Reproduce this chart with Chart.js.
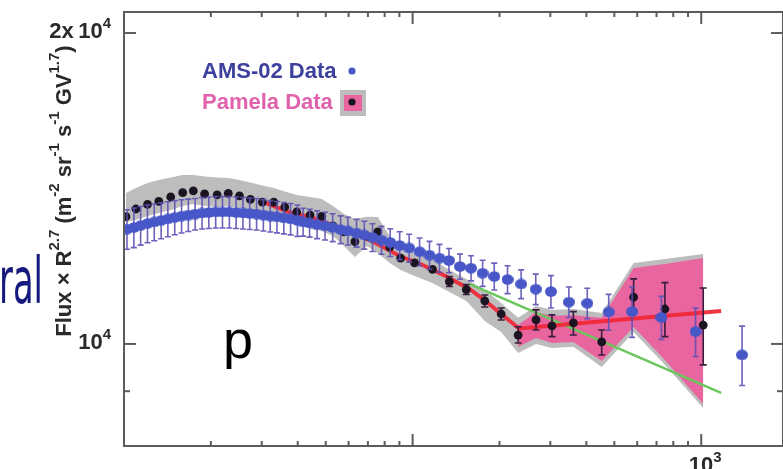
<!DOCTYPE html>
<html>
<head>
<meta charset="utf-8">
<script src="https://cdn.jsdelivr.net/npm/chart.js@4.4.0/dist/chart.umd.min.js"></script>
<style>
  html, body { margin: 0; padding: 0; background: #fff; overflow: hidden; }
  #wrap { position: absolute; left: 0; top: 0; width: 790px; height: 469px; }
</style>
</head>
<body>
<div id="wrap"><canvas id="c"></canvas></div>
<script>
// ---- AMS-02 proton flux x R^2.7 (rigidity in GV) ----
const amsRigidity = [10.24, 10.82, 11.42, 12.06, 12.73, 13.45, 14.19, 14.99, 15.83, 16.71,
  17.64, 18.64, 19.67, 20.78, 21.94, 23.18, 24.46, 25.83, 27.26, 28.80,
  30.40, 32.11, 33.88, 35.79, 37.77, 39.90, 41.75, 43.96, 46.66, 49.73,
  52.85, 56.31, 59.67, 63.93, 68.02, 72.62, 77.99, 83.62, 90.19, 97.26,
  105.7, 114.4, 123.9, 133.6, 146.0, 159.4, 174.8, 191.8, 213.2, 237.7,
  267.1, 301.5, 347.8, 402.8, 477.9, 576.0, 727.9, 955.8, 1385];
const amsFlux = [12920, 12965, 13025, 13080, 13125, 13170, 13215, 13260, 13300, 13330,
  13360, 13390, 13405, 13420, 13420, 13420, 13405, 13390, 13375, 13360,
  13330, 13300, 13275, 13245, 13215, 13170, 13125, 13095, 13050, 13010,
  12965, 12905, 12865, 12805, 12750, 12680, 12605, 12540, 12455, 12385,
  12285, 12190, 12110, 12045, 11885, 11840, 11710, 11625, 11545, 11430,
  11300, 11240, 10980, 10950, 10740, 10750, 10610, 10280, 9760];
// relative uncertainty of each AMS-02 point, in percent
const amsErrPct = [4.4, 4.4, 4.3, 4.2, 4.1, 4.0, 3.9, 3.8, 3.7, 3.6,
  3.5, 3.5, 3.5, 3.5, 3.5, 3.5, 3.5, 3.5, 3.5, 3.5,
  3.5, 3.5, 3.5, 3.5, 3.5, 3.5, 3.1, 3.1, 3.1, 3.1,
  3.1, 3.1, 3.1, 3.1, 3.1, 3.1, 3.1, 3.1, 3.1, 3.1,
  3.1, 3.1, 3.1, 2.7, 2.8, 2.8, 2.9, 3.0, 3.1, 3.2,
  3.4, 3.6, 3.4, 3.4, 4.0, 5.6, 4.8, 5.4, 6.6];

// ---- PAMELA proton flux x R^2.7 ----
const pamelaRigidity = [10.16, 11.0, 12.07, 13.2, 14.52, 15.97, 17.39, 19.02, 21.02, 22.97,
  25.12, 27.41, 30.15, 33.04, 36.06, 39.66, 44.14, 48.43, 52.98, 57.82,
  63.1, 69.4, 75.7, 83.3, 90.9, 101.6, 117.2, 134.1, 153.5, 177.8,
  202.7, 232.1, 267.7, 304.0, 360.6, 452.0, 583.1, 748.4, 1016];
const pamelaFlux = [13280, 13510, 13650, 13740, 13880, 14010, 14070, 13970, 13940, 13990,
  13910, 13800, 13720, 13720, 13570, 13420, 13330, 13290, 13010, 12840,
  12560, 12720, 12840, 12410, 12110, 11980, 11810, 11490, 11290, 11010,
  10690, 10200, 10550, 10410, 10480, 10045, 11100, 10810, 10430];
// statistical error bar ends (null where the bar is smaller than the marker)
const pamelaLow = [null, null, null, null, null, null, null, null, null, null,
  null, null, null, null, null, null, null, null, null, null,
  null, null, null, null, null, null, null, 11367, 11167, 10860,
  10550, 10020, 10317, 10165, 10202, 9758, 10715, 10165, 9543];
const pamelaHigh = [null, null, null, null, null, null, null, null, null, null,
  null, null, null, null, null, null, null, null, null, null,
  null, null, null, null, null, null, null, 11624, 11418, 11154,
  10836, 10390, 10790, 10670, 10747, 10317, 11560, 11464, 11330];
// systematic uncertainty band (grey)
const pamelaSysUpper = [14000, 14160, 14320, 14410, 14490, 14575, 14575, 14525, 14490, 14480,
  14410, 14330, 14240, 14160, 14050, 13940, 13880, 13815, 13600, 13360,
  13215, 13280, 13270, 12720, 12415, 12275, 12085, 11795, 11560, 11280,
  10955, 10600, 10885, 10785, 10810, 10715, 11980, 12085, 12220];
const pamelaSysLower = [13125, 13185, 13300, 13390, 13480, 13600, 13660, 13600, 13570, 13600,
  13540, 13450, 13360, 13330, 13215, 13065, 12920, 12865, 12720, 12440,
  12140, 12440, 12250, 11980, 11795, 11635, 11455, 11230, 11005, 10525,
  10270, 9800, 10000, 9910, 9935, 9500, 10270, 9545, 8670];
// high-rigidity uncertainty band (pink)
const tailRigidity = [232.1, 267.7, 304.0, 360.6, 452.0, 583.1, 748.4, 1016];
const tailUpper = [10433, 10739, 10644, 10668, 10597, 11846, 11952, 12113];
const tailLower = [9933, 10135, 10022, 10045, 9628, 10386, 9650, 8748];

// ---- fits ----
const brokenFitRigidity = [29.68, 37.66, 44.14, 56.02, 71.08, 90.19, 108.3, 128.9, 157.3, 177.1, 202.7, 233.8, 1172];
const brokenFitFlux = [13754, 13406, 13272, 12951, 12607, 12165, 11924, 11648, 11303, 11029, 10691, 10351, 10763];
const powerFitRigidity = [157.3, 1172];
const powerFitFlux = [11431, 8966];

// ---- axes ----
const xMajorTicks = [100, 1000];
const xMinorTicks = [20, 30, 40, 50, 60, 70, 80, 90, 200, 300, 400, 500, 600, 700, 800, 900];
const xLabelValues = [1000];
const xLabelTexts = ['10^3'];
const yMajorTicks = [10000, 20000];
const yMinorTicks = [9000];
const yLabelTexts = ['10^4', '2x\u200910^4'];

const AXIS = '#5c5c5c';
const AMS_BLUE = '#4757c8';
const PINK = '#e8659f';
const GREY = '#bdbdbd';
const FONT = '"Liberation Sans", Arial, Helvetica, sans-serif';

const xy = (xs, ys) => xs.map((v, i) => ({ x: v, y: ys[i] }));

// elliptical marker for AMS-02 points
const amsMarker = document.createElement('canvas');
amsMarker.width = 12; amsMarker.height = 11;
(function () {
  const g = amsMarker.getContext('2d');
  g.fillStyle = AMS_BLUE;
  g.beginPath(); g.ellipse(6, 5.5, 6, 5.3, 0, 0, Math.PI * 2); g.fill();
})();

// vertical error bars with caps, drawn just before their dataset
const errorBars = {
  id: 'errorBars',
  beforeDatasetDraw(chart, args) {
    const ds = chart.data.datasets[args.index];
    if (!ds.errorLow) return;
    const { ctx, chartArea: a, scales: { x, y } } = chart;
    ctx.save();
    ctx.beginPath(); ctx.rect(a.left, a.top, a.right - a.left, a.bottom - a.top); ctx.clip();
    ctx.strokeStyle = ds.errorColor; ctx.lineWidth = ds.errorWidth;
    const c = ds.capHalf;
    ds.data.forEach((p, i) => {
      const lo = ds.errorLow[i], hi = ds.errorHigh[i];
      if (lo == null || hi == null) return;
      const px = x.getPixelForValue(p.x), y1 = y.getPixelForValue(lo), y2 = y.getPixelForValue(hi);
      ctx.beginPath();
      ctx.moveTo(px, y1); ctx.lineTo(px, y2);
      ctx.moveTo(px - c, y1); ctx.lineTo(px + c, y1);
      ctx.moveTo(px - c, y2); ctx.lineTo(px + c, y2);
      ctx.stroke();
    });
    ctx.restore();
  }
};

// text with an optional "^exponent" part
function powText(ctx, text, x, y, align, size, supSize, rise) {
  const [base, exp] = text.split('^');
  ctx.font = 'bold ' + size + 'px ' + FONT;
  const wb = ctx.measureText(base).width;
  ctx.font = 'bold ' + supSize + 'px ' + FONT;
  const we = exp ? ctx.measureText(exp).width : 0;
  let x0 = x;
  if (align === 'right') x0 = x - wb - we;
  else if (align === 'center') x0 = x - (wb + we) / 2;
  ctx.textAlign = 'left'; ctx.textBaseline = 'alphabetic';
  ctx.font = 'bold ' + size + 'px ' + FONT;
  ctx.fillText(base, x0, y);
  if (exp) { ctx.font = 'bold ' + supSize + 'px ' + FONT; ctx.fillText(exp, x0 + wb, y - rise); }
}

const yTitleParts = [['Flux \u00d7 R', 0], ['2.7', 1], [' (m', 0], ['-2', 1], [' sr', 0], ['-1', 1],
  [' s', 0], ['-1', 1], [' GV', 0], ['1.7', 1], [')', 0]];

const frame = {
  id: 'frame',
  afterDraw(chart) {
    const { ctx, chartArea: a, scales: { x, y } } = chart;
    ctx.save();
    // plot frame
    ctx.strokeStyle = AXIS; ctx.lineWidth = 2;
    ctx.strokeRect(a.left, a.top, a.right - a.left, a.bottom - a.top);
    const seg = (x1, y1, x2, y2) => { ctx.beginPath(); ctx.moveTo(x1, y1); ctx.lineTo(x2, y2); ctx.stroke(); };
    // inward tick marks on all four sides
    xMajorTicks.forEach(v => { const p = x.getPixelForValue(v); seg(p, a.top, p, a.top + 12); seg(p, a.bottom, p, a.bottom - 12); });
    xMinorTicks.forEach(v => { const p = x.getPixelForValue(v); seg(p, a.top, p, a.top + 5); seg(p, a.bottom, p, a.bottom - 5); });
    yMajorTicks.forEach(v => { const p = y.getPixelForValue(v); seg(a.left, p, a.left + 12, p); seg(a.right, p, a.right - 12, p); });
    yMinorTicks.forEach(v => { const p = y.getPixelForValue(v); seg(a.left, p, a.left + 6, p); seg(a.right, p, a.right - 6, p); });

    // tick labels
    ctx.fillStyle = '#2a2a2a';
    yMajorTicks.forEach((v, i) => powText(ctx, yLabelTexts[i], 111, y.getPixelForValue(v) + 5, 'right', 22, 15, 10));
    xLabelValues.forEach((v, i) => powText(ctx, xLabelTexts[i], x.getPixelForValue(v) + 4, 472, 'center', 22, 15, 10));

    // rotated y-axis title with superscripts
    ctx.save();
    ctx.translate(71, 191); ctx.rotate(-Math.PI / 2);
    const main = 22, sup = 15;
    let total = 0;
    yTitleParts.forEach(([t, s]) => { ctx.font = 'bold ' + (s ? sup : main) + 'px ' + FONT; total += ctx.measureText(t).width; });
    let cx = -total / 2;
    ctx.textAlign = 'left'; ctx.textBaseline = 'alphabetic';
    yTitleParts.forEach(([t, s]) => {
      ctx.font = 'bold ' + (s ? sup : main) + 'px ' + FONT;
      ctx.fillText(t, cx, s ? -12 : 0);
      cx += ctx.measureText(t).width;
    });
    ctx.restore();

    // legend
    ctx.textAlign = 'left'; ctx.textBaseline = 'alphabetic';
    ctx.font = 'bold 22px ' + FONT;
    ctx.fillStyle = '#3d409c';
    ctx.fillText('AMS-02 Data', 202, 78);
    ctx.fillStyle = AMS_BLUE;
    ctx.beginPath(); ctx.arc(352, 71, 3.6, 0, Math.PI * 2); ctx.fill();
    ctx.fillStyle = '#e062ac';
    ctx.fillText('Pamela Data', 202, 109);
    ctx.fillStyle = GREY; ctx.fillRect(340, 90, 26, 26);
    ctx.fillStyle = PINK; ctx.fillRect(344, 95, 18, 16);
    ctx.fillStyle = '#1a1420';
    ctx.beginPath(); ctx.arc(352, 102, 3.6, 0, Math.PI * 2); ctx.fill();

    // overlapping slide lettering
    ctx.fillStyle = '#16197e';
    ctx.font = '64px "Liberation Sans Narrow", "DejaVu Sans Condensed", ' + FONT;
    ctx.textAlign = 'left';
    const w = ctx.measureText('ral').width;
    ctx.save(); ctx.translate(-1, 303); ctx.scale(44 / w, 1); ctx.fillText('ral', 0, 0); ctx.restore();
    ctx.fillStyle = '#000';
    ctx.font = '54px ' + FONT;
    ctx.fillText('p', 223, 358);
    ctx.restore();
  }
};

const amsLow = amsFlux.map((f, i) => f * (1 - amsErrPct[i] / 100));
const amsHigh = amsFlux.map((f, i) => f * (1 + amsErrPct[i] / 100));

new Chart(document.getElementById('c'), {
  type: 'scatter',
  data: {
    datasets: [
      {
        label: 'AMS-02 Data', data: xy(amsRigidity, amsFlux), showLine: false,
        pointStyle: amsMarker, pointRadius: 6,
        errorLow: amsLow, errorHigh: amsHigh, errorColor: 'rgba(92,80,180,0.9)', errorWidth: 1.6, capHalf: 3
      },
      {
        label: 'Pamela Data', data: xy(pamelaRigidity, pamelaFlux), showLine: false,
        pointStyle: 'circle', pointRadius: 4.4, backgroundColor: '#1c1420', borderColor: '#1c1420', borderWidth: 0,
        errorLow: pamelaLow, errorHigh: pamelaHigh, errorColor: '#3c1c3e', errorWidth: 1.6, capHalf: 3.5
      },
      {
        label: 'broken power law', type: 'line', data: xy(brokenFitRigidity, brokenFitFlux),
        borderColor: 'rgba(240,38,52,0.92)', borderWidth: 4, pointRadius: 0, fill: false, tension: 0
      },
      {
        label: 'single power law', type: 'line', data: xy(powerFitRigidity, powerFitFlux),
        borderColor: '#6cc65e', borderWidth: 2.5, pointRadius: 0, fill: false, tension: 0
      },
      {
        label: 'tail upper', type: 'line', data: xy(tailRigidity, tailUpper),
        borderWidth: 0, pointRadius: 0, backgroundColor: PINK, fill: '+1', tension: 0
      },
      {
        label: 'tail lower', type: 'line', data: xy(tailRigidity, tailLower),
        borderWidth: 0, pointRadius: 0, fill: false, tension: 0
      },
      {
        label: 'sys upper', type: 'line', data: xy(pamelaRigidity, pamelaSysUpper),
        borderWidth: 0, pointRadius: 0, backgroundColor: GREY, fill: '+1', tension: 0
      },
      {
        label: 'sys lower', type: 'line', data: xy(pamelaRigidity, pamelaSysLower),
        borderWidth: 0, pointRadius: 0, fill: false, tension: 0
      }
    ]
  },
  options: {
    responsive: true, maintainAspectRatio: false, animation: false,
    layout: { padding: { top: 12, right: 5, left: 0, bottom: 0 } },
    plugins: { legend: { display: false }, tooltip: { enabled: false } },
    scales: {
      x: {
        type: 'logarithmic', position: 'bottom', min: 10, max: 1920,
        ticks: { display: false }, grid: { display: false }, border: { display: false },
        afterFit(s) { s.height = 23; }
      },
      y: {
        type: 'logarithmic', position: 'left', min: 7965, max: 20960,
        ticks: { display: false }, grid: { display: false }, border: { display: false },
        afterFit(s) { s.width = 124; }
      }
    }
  },
  plugins: [errorBars, frame]
});
</script>
</body>
</html>
